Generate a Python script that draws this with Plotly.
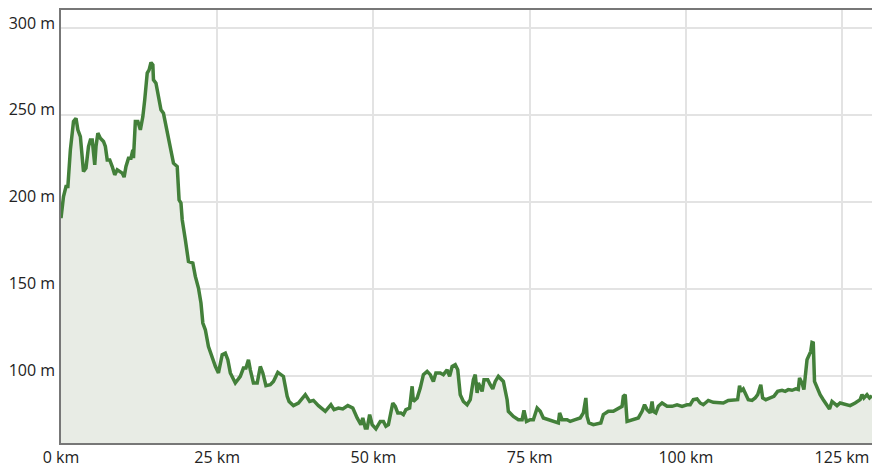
import plotly.graph_objects as go

# Distance along route (km)
dist_km = [
    0.0, 0.4, 0.8, 1.1, 1.5, 2.0, 2.4, 2.7, 3.1, 3.4, 3.6, 4.0, 4.4, 4.7, 5.0, 5.4, 5.6, 5.9,
    6.3, 6.8, 7.1, 7.4, 7.8, 8.2, 8.6, 9.0, 9.5, 9.8, 10.1, 10.4, 10.8, 11.2, 11.5, 11.6, 11.9,
    12.3, 12.7, 13.1, 13.4, 13.8, 14.1, 14.4, 14.7, 14.8, 15.2, 15.6, 16.0, 16.4, 17.0, 17.5,
    18.0, 18.6, 18.9, 19.2, 19.4, 19.9, 20.4, 21.1, 21.5, 22.0, 22.4, 22.7, 23.1, 23.6, 24.2,
    24.7, 25.2, 25.8, 26.3, 26.7, 27.1, 27.9, 28.7, 29.2, 29.6, 30.0, 30.3, 30.8, 31.4, 31.9,
    32.3, 32.8, 33.5, 34.0, 34.7, 35.1, 35.6, 35.9, 36.2, 36.5, 37.2, 38.0, 39.1, 39.8, 40.4,
    41.2, 42.3, 43.2, 43.7, 44.4, 45.1, 45.9, 46.7, 47.4, 48.0, 48.3, 48.7, 49.0, 49.4, 49.8,
    50.4, 51.1, 51.6, 52.0, 52.4, 53.1, 53.5, 53.9, 54.4, 54.8, 55.2, 55.8, 56.2, 56.4, 57.0,
    57.5, 58.0, 58.6, 59.1, 59.6, 60.0, 60.7, 61.2, 61.8, 62.2, 62.6, 63.1, 63.5, 63.9, 64.4,
    65.0, 65.5, 66.0, 66.3, 66.6, 66.8, 67.4, 67.7, 68.3, 68.7, 69.1, 69.5, 70.0, 70.8, 71.4,
    71.6, 72.4, 73.2, 73.8, 74.1, 74.5, 75.1, 75.6, 76.2, 76.7, 77.2, 78.0, 78.8, 79.6, 79.8,
    80.2, 81.0, 81.5, 82.3, 83.1, 83.6, 84.0, 84.2, 84.5, 85.2, 86.0, 86.4, 86.8, 87.6, 88.4,
    89.2, 89.8, 90.0, 90.3, 90.6, 91.4, 92.4, 93.0, 93.4, 93.8, 94.3, 94.6, 94.8, 95.2, 95.6,
    96.2, 97.0, 97.8, 98.6, 99.4, 100.2, 100.7, 101.2, 101.8, 102.3, 102.8, 103.6, 104.4,
    105.2, 106.0, 106.8, 107.6, 108.3, 108.6, 108.8, 109.2, 109.5, 110.0, 110.6, 111.1, 111.5,
    112.0, 112.3, 112.8, 113.5, 114.1, 114.7, 115.4, 115.9, 116.4, 117.0, 117.6, 118.0, 118.2,
    118.6, 118.9, 119.4, 119.7, 120.0, 120.2, 120.4, 120.6, 121.0, 121.5, 122.0, 122.6, 123.0,
    123.4, 123.7, 124.2, 124.7, 125.5, 126.3, 127.1, 127.9, 128.2, 128.5, 129.0, 129.4, 129.8,
]

# Elevation (m)
elev_m = [
    190.6, 203.0, 208.8, 208.8, 229.9, 246.2, 248.0, 241.4, 237.5, 224.0, 217.4, 219.4, 231.8,
    235.6, 235.6, 221.3, 231.8, 239.5, 236.6, 234.7, 231.8, 224.1, 224.1, 220.3, 215.5, 218.4,
    217.4, 216.5, 214.2, 220.3, 225.1, 225.1, 229.9, 225.1, 246.2, 246.2, 241.4, 249.0, 258.6,
    274.0, 275.9, 280.1, 278.7, 270.1, 268.2, 260.5, 252.9, 250.9, 239.5, 231.8, 222.2, 220.3,
    201.1, 199.3, 189.7, 178.2, 165.7, 164.8, 157.1, 150.4, 141.8, 130.3, 126.4, 116.8, 110.2,
    105.4, 101.6, 112.1, 113.0, 109.2, 101.6, 95.8, 99.6, 104.4, 104.4, 109.2, 103.4, 95.8,
    95.8, 105.3, 101.6, 94.3, 94.8, 96.7, 101.9, 100.6, 99.6, 93.9, 88.1, 85.2, 82.8, 84.3,
    89.1, 85.2, 85.8, 82.8, 79.5, 83.3, 80.5, 81.4, 80.9, 82.8, 81.4, 75.7, 71.8, 75.7, 69.9,
    69.9, 77.6, 71.8, 69.4, 73.7, 73.7, 70.9, 71.8, 84.3, 82.4, 78.6, 78.6, 77.6, 80.5, 81.4,
    93.9, 85.2, 87.2, 92.9, 100.6, 102.5, 100.6, 96.7, 101.6, 101.6, 100.6, 103.4, 99.6, 105.3,
    106.3, 103.4, 89.1, 85.2, 83.3, 86.2, 97.7, 100.6, 90.1, 95.8, 91.0, 97.7, 97.7, 94.8,
    92.4, 96.7, 99.6, 96.7, 86.2, 79.5, 76.6, 74.7, 74.7, 80.1, 73.7, 74.7, 74.7, 81.4, 79.5,
    75.7, 74.7, 73.7, 72.8, 78.6, 74.7, 74.7, 73.7, 74.7, 75.7, 78.6, 87.2, 76.6, 72.8, 71.8,
    72.8, 72.8, 77.6, 79.5, 79.5, 81.4, 82.4, 88.1, 89.1, 73.7, 74.7, 75.7, 79.5, 83.3, 80.5,
    78.6, 85.2, 79.5, 78.6, 82.4, 84.3, 82.4, 82.4, 83.3, 82.4, 83.3, 83.3, 86.2, 86.6, 84.3,
    83.3, 85.8, 84.7, 84.3, 84.3, 85.8, 86.2, 86.2, 94.3, 91.0, 92.4, 90.1, 86.2, 85.8, 87.2,
    89.1, 94.8, 87.2, 86.2, 87.2, 88.1, 91.0, 91.6, 91.0, 92.0, 91.6, 92.4, 92.0, 98.7, 95.8,
    92.0, 109.2, 111.1, 114.0, 119.1, 118.8, 96.7, 92.9, 89.1, 86.2, 83.3, 80.9, 85.2, 84.3,
    82.8, 84.3, 83.3, 82.8, 84.3, 86.2, 89.1, 87.2, 89.1, 87.2, 88.5,
]

x_tick_vals = [0, 25, 50, 75, 100, 125]
x_tick_text = ["0 km", "25 km", "50 km", "75 km", "100 km", "125 km"]
y_tick_vals = [100, 150, 200, 250, 300]
y_tick_text = ["100 m", "150 m", "200 m", "250 m", "300 m"]

fig = go.Figure()
fig.add_trace(go.Scatter(
    x=dist_km, y=elev_m, mode="lines",
    line=dict(color="#43803a", width=3.5),
    fill="tozeroy", fillcolor="#e8ece5",
    hoverinfo="skip",
))

fig.update_layout(
    width=872, height=465,
    margin=dict(l=61, r=0, t=10, b=22),
    paper_bgcolor="white", plot_bgcolor="white",
    showlegend=False,
    font=dict(family="Open Sans", size=16, color="#222222"),
)
fig.update_xaxes(
    range=[0, 129.8], tickvals=x_tick_vals, ticktext=x_tick_text,
    showgrid=True, gridcolor="#e3e3e3", gridwidth=1.5,
    showline=True, linecolor="#777777", linewidth=1.5, mirror=True,
    zeroline=False, ticks="", automargin=False, ticklabelstandoff=-1,
)
fig.update_yaxes(
    range=[61.3, 310.3], tickvals=y_tick_vals, ticktext=y_tick_text,
    showgrid=True, gridcolor="#e3e3e3", gridwidth=1.5,
    showline=True, linecolor="#777777", linewidth=1.5,
    zeroline=False, ticks="", ticklabelshift=-5, ticklabelstandoff=1,
    automargin=False,
)

fig.write_html(
    "out.html",
    config={"displayModeBar": False},
    post_script="document.body.style.margin='0';document.body.style.overflow='hidden';",
)
